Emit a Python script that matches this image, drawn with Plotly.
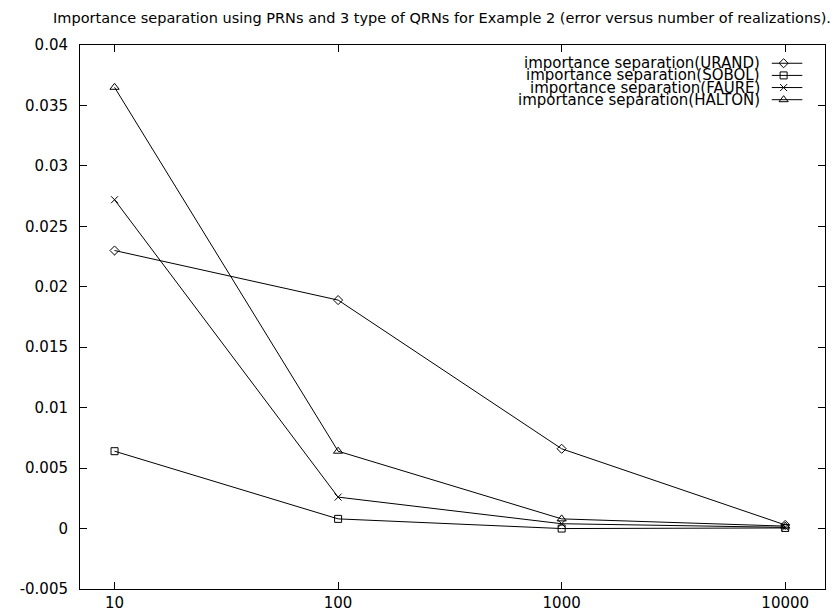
import plotly.graph_objects as go

# ---- data ----
realizations = [10, 100, 1000, 10000]
urand = [0.0230, 0.0189, 0.0066, 0.0003]
sobol = [0.0064, 0.0008, 0.0000, 0.00005]
faure = [0.0272, 0.0026, 0.0004, 0.0001]
halton = [0.0365, 0.0064, 0.0008, 0.0002]

series_names = [
    "importance separation(URAND)",
    "importance separation(SOBOL)",
    "importance separation(FAURE)",
    "importance separation(HALTON)",
]
series_values = [urand, sobol, faure, halton]
series_symbols = ["diamond-open", "square-open", "x-thin-open", "triangle-up-open"]
series_sizes = [7, 7, 7, 8]

x_tickvals = [10, 100, 1000, 10000]
x_ticktext = ["10", "100", "1000", "10000"]
y_tickvals = [-0.005, 0, 0.005, 0.01, 0.015, 0.02, 0.025, 0.03, 0.035, 0.04]
y_ticktext = ["-0.005", "0", "0.005", "0.01", "0.015", "0.02", "0.025", "0.03", "0.035", "0.04"]

title_text = "Importance separation using PRNs and 3 type of QRNs for Example 2 (error versus number of realizations)."

FONT = "DejaVu Sans, Liberation Sans, Arial, sans-serif"
FS = 15

W, H = 840, 616
ML, MR, MT, MB = 61, 23, 37, 28
PW = W - ML - MR
PH = H - MT - MB

fig = go.Figure()

for name, vals, sym, sz in zip(series_names, series_values, series_symbols, series_sizes):
    fig.add_trace(go.Scatter(
        x=realizations, y=vals, mode="lines+markers", name=name,
        line=dict(color="black", width=1),
        marker=dict(symbol=sym, size=sz, color="black", line=dict(color="black", width=1)),
        showlegend=False,
    ))

# custom gnuplot-style key: text right-aligned, sample line+point to the right
key_text_right_px = 752
key_line_x0_px = 763
key_line_x1_px = 794
key_marker_px = 775
key_row_y_px = [55.5, 67.8, 80.1, 92.4]

def px_to_xfrac(px):
    return (px - ML) / PW

def py_to_yfrac(py):
    return (H - MB - py) / PH

for name, sym, sz, ry in zip(series_names, series_symbols, series_sizes, key_row_y_px):
    yf = py_to_yfrac(ry)
    fig.add_annotation(
        x=px_to_xfrac(key_text_right_px), y=yf, xref="paper", yref="paper",
        text=name, showarrow=False, xanchor="right", yanchor="middle",
        borderpad=0,
        font=dict(family=FONT, size=FS, color="black"),
    )
    x0 = px_to_xfrac(key_line_x0_px)
    x1 = px_to_xfrac(key_line_x1_px)
    fig.add_trace(go.Scatter(
        x=[x0, x1], y=[yf, yf], xaxis="x2", yaxis="y2", mode="lines",
        line=dict(color="black", width=1), showlegend=False, hoverinfo="skip",
    ))
    fig.add_trace(go.Scatter(
        x=[px_to_xfrac(key_marker_px)], y=[yf], xaxis="x2", yaxis="y2",
        mode="markers",
        marker=dict(symbol=sym, size=sz, color="black", line=dict(color="black", width=1)),
        showlegend=False, hoverinfo="skip",
    ))

axis_common = dict(
    showline=True, linecolor="black", linewidth=1, mirror="allticks",
    ticks="inside", ticklen=7, tickwidth=1, tickcolor="black",
    showgrid=False, zeroline=False,
    tickfont=dict(family=FONT, size=FS, color="black"),
)

fig.update_layout(
    width=W, height=H,
    margin=dict(l=ML, r=MR, t=MT, b=MB),
    paper_bgcolor="white", plot_bgcolor="white",
    title=dict(text=title_text, x=434 / W, xref="container", xanchor="center",
               y=1 - 9.5 / H, yref="container", yanchor="middle",
               font=dict(family=FONT, size=14.5, color="black")),
    xaxis=dict(type="log", range=[0.8455, 4.178], tickvals=x_tickvals, ticktext=x_ticktext,
               ticklabelstandoff=0, **axis_common),
    yaxis=dict(range=[-0.005, 0.04], tickvals=y_tickvals, ticktext=y_ticktext,
               ticklabelstandoff=8, **axis_common),
    xaxis2=dict(overlaying="x", range=[0, 1], visible=False, fixedrange=True),
    yaxis2=dict(overlaying="y", range=[0, 1], visible=False, fixedrange=True),
    showlegend=False,
)

fig.write_html("out.html")
